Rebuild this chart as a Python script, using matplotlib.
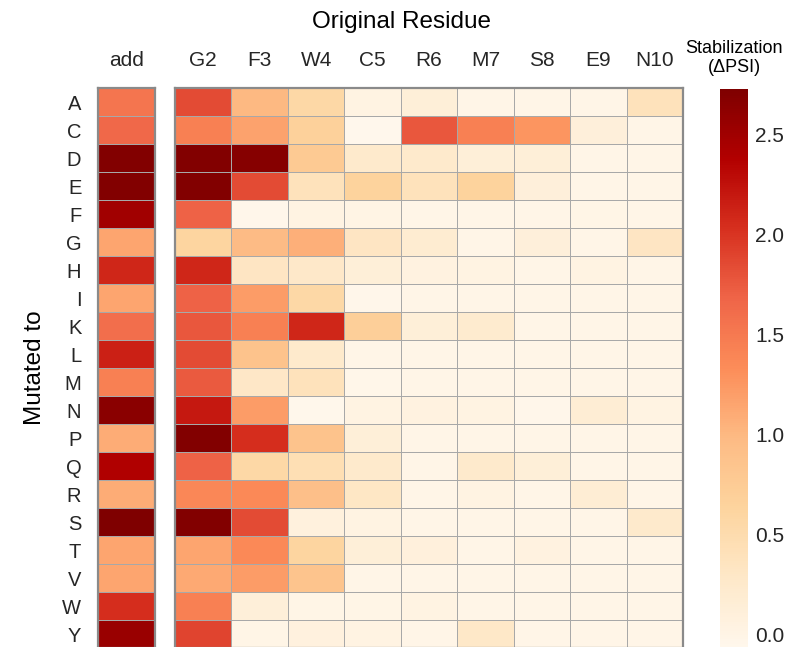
import numpy as np
import matplotlib
matplotlib.use("Agg")
import matplotlib.pyplot as plt
from matplotlib.colors import Normalize

plt.rcParams['font.family'] = ['Liberation Sans', 'DejaVu Sans']

rows = ["A", "C", "D", "E", "F", "G", "H", "I", "K", "L", "M", "N", "P", "Q", "R", "S", "T", "V", "W", "Y"]
cols = ["G2", "F3", "W4", "C5", "R6", "M7", "S8", "E9", "N10"]

add = [1.55, 1.65, 2.70, 2.70, 2.50, 1.15, 2.10, 1.15, 1.60, 2.15, 1.45, 2.65, 1.10, 2.40, 1.10, 2.72, 1.15, 1.15, 2.05, 2.55]

G2 = [1.85, 1.45, 2.70, 2.70, 1.70, 0.62, 2.10, 1.70, 1.78, 1.85, 1.75, 2.20, 2.70, 1.70, 1.38, 2.70, 1.15, 1.12, 1.45, 1.90]
F3 = [1.00, 1.17, 2.68, 1.85, -0.04, 0.98, 0.33, 1.22, 1.45, 0.88, 0.30, 1.22, 2.05, 0.57, 1.37, 1.85, 1.37, 1.22, 0.13, -0.01]
W4 = [0.57, 0.67, 0.78, 0.40, 0.04, 1.08, 0.28, 0.57, 2.10, 0.25, 0.40, -0.05, 0.88, 0.45, 0.92, 0.08, 0.62, 0.86, -0.01, 0.07]
C5 = [0.04, -0.06, 0.25, 0.65, 0.02, 0.33, 0.14, -0.04, 0.70, -0.02, -0.03, 0.04, 0.14, 0.25, 0.31, 0.04, 0.14, -0.02, 0.00, 0.04]
R6 = [0.14, 1.78, 0.25, 0.40, -0.02, 0.20, 0.06, -0.02, 0.14, -0.02, -0.02, 0.06, -0.02, -0.02, -0.02, -0.02, 0.09, -0.02, 0.04, -0.02]
M7 = [-0.02, 1.45, 0.14, 0.65, -0.02, -0.02, 0.04, -0.02, 0.22, -0.02, -0.02, 0.04, -0.02, 0.25, 0.04, -0.02, -0.02, -0.02, -0.02, 0.29]
S8 = [-0.02, 1.27, 0.14, 0.12, -0.02, 0.12, -0.02, -0.02, -0.02, -0.02, -0.02, -0.04, -0.02, 0.14, -0.02, -0.02, 0.06, -0.02, -0.02, -0.02]
E9 = [-0.02, 0.12, -0.02, -0.02, 0.00, -0.02, 0.04, -0.02, -0.02, -0.02, -0.02, 0.17, -0.02, -0.02, 0.17, -0.02, -0.02, -0.02, -0.02, -0.02]
N10 = [0.40, -0.02, -0.02, -0.02, -0.02, 0.33, -0.02, -0.02, -0.02, -0.02, -0.02, 0.04, -0.02, -0.02, -0.02, 0.25, -0.02, -0.02, -0.02, -0.02]

vmin, vmax = -0.065, 2.73
cmap = plt.get_cmap("OrRd")
norm = Normalize(vmin=vmin, vmax=vmax)

main = np.array([G2, F3, W4, C5, R6, M7, S8, E9, N10]).T
addm = np.array(add)[:, None]

W, H = 792, 647
fig = plt.figure(figsize=(W / 100, H / 100), dpi=100)

def fx(px):
    return px / W

def fy(px):
    return 1 - px / H

top_px, bot_px = 88, 648
ax_y = (H - bot_px) / H
ax_h = (bot_px - top_px) / H

ax_add = fig.add_axes([fx(98), ax_y, fx(57), ax_h])
ax_main = fig.add_axes([fx(175), ax_y, fx(508), ax_h])
ax_cb = fig.add_axes([fx(720), ax_y, fx(28), (bot_px - 89) / H])

text_color = "#262626"
grid_color = "#a8a8a8"
border_color = "#8a8a8a"

for ax, data, labels in [(ax_add, addm, ["add"]), (ax_main, main, cols)]:
    ax.pcolormesh(data, cmap=cmap, norm=norm, edgecolors=grid_color, linewidth=0.6)
    ax.set_xlim(0, data.shape[1])
    ax.set_ylim(data.shape[0], 0)
    ax.set_xticks(np.arange(data.shape[1]) + 0.5)
    ax.set_xticklabels(labels, fontsize=15, color=text_color)
    ax.xaxis.tick_top()
    ax.tick_params(axis="x", length=0, pad=13)
    ax.tick_params(axis="y", length=0)
    for s in ax.spines.values():
        s.set_color(border_color)
        s.set_linewidth(1.6)

ax_add.set_yticks(np.arange(len(rows)) + 0.5)
ax_add.set_yticklabels(rows, fontsize=14.5, color=text_color)
ax_add.tick_params(axis="y", pad=12)
ax_main.set_yticks([])

fig.text(fx(35), fy(368), "Mutated to", rotation=90, ha="center", va="center", fontsize=17.5, color="black")
fig.text(fx(402), fy(22), "Original Residue", ha="center", va="center", fontsize=17.5, color="black")

sm = plt.cm.ScalarMappable(norm=norm, cmap=cmap)
cb = fig.colorbar(sm, cax=ax_cb, ticks=[0.0, 0.5, 1.0, 1.5, 2.0, 2.5])
cb.outline.set_visible(False)
cb.ax.tick_params(length=0, labelsize=15, labelcolor=text_color, pad=5)
cb.ax.set_yticklabels(["0.0", "0.5", "1.0", "1.5", "2.0", "2.5"])
fig.text(fx(734), fy(58), "Stabilization\n(\u0394PSI)", ha="center", va="center", fontsize=13, color="black", linespacing=1.1)

fig.savefig("out.png", dpi=100)
